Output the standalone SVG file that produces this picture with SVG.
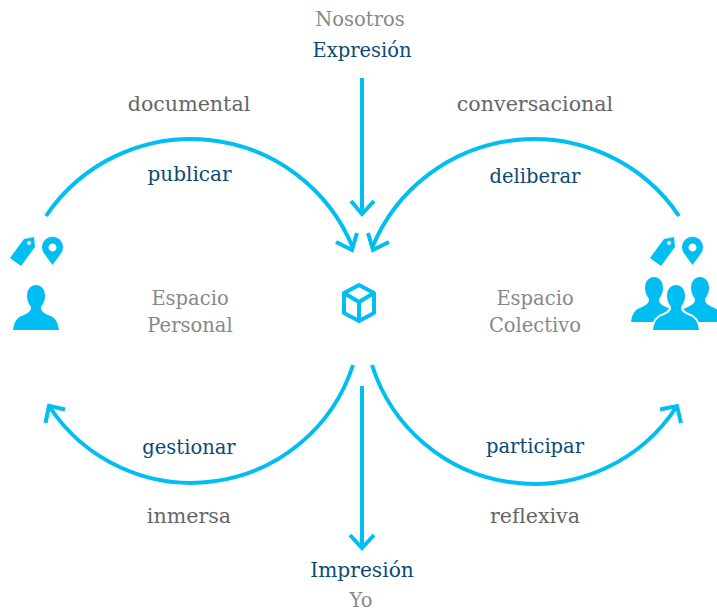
<svg xmlns="http://www.w3.org/2000/svg" xmlns:xlink="http://www.w3.org/1999/xlink" width="717" height="612" viewBox="0 0 717 612">
<style>
text{font-family:"DejaVu Serif",serif;font-size:19.5px;text-anchor:middle}
.d{fill:#0b4a78}.g{fill:#666;font-size:20.6px}.l{fill:#888}
.c{fill:none;stroke:#00bdf2;stroke-width:4}
.i{fill:#00bdf2}
</style>
<defs>
<g id="tagpin"><path class="i" d="M24 239L34 237L35 247L21 266L10 258Z"/><circle cx="29" cy="243" r="2" fill="#fff"/><path class="i" fill-rule="evenodd" d="M52.500 265L44.500 254A10.500 10.500 0 1 1 60.500 254ZM52.500 243.500a4 4 0 1 0 .01 0Z"/></g>
<path id="person" d="M36 285C41 285 45 289 45 296C45 301 43 304 41 307C40.500 311 44 313 48 315C55 317 58 322 59 330H13C14 322 17 317 24 315C28 313 31.500 311 31 307C29 304 27 301 27 296C27 289 31 285 36 285Z"/>
</defs>
<rect width="717" height="612" fill="#fff"/>
<g id="connectors" class="c">
<path d="M46 216A175 175 0 0 1 353 248"/><path d="M336 242L352 250L357 233"/>
<path d="M679 216A175 175 0 0 0 372 248"/><path d="M389 242L373 250L368 233"/>
<path d="M353 365A170 170 0 0 1 49 406"/><path d="M65 409.500L49 406L45.500 423"/>
<path d="M372 365A170 170 0 0 0 677 406"/><path d="M660 409.500L677 406L681 423"/>
<path d="M362 78V214"/><path d="M351 201L362 214L374 201"/>
<path d="M362 386V548"/><path d="M350 535L362 548L374 535"/>
</g>
<g id="top-label"><text class="l" x="360" y="26">Nosotros</text><text class="d" x="362" y="57">Expresión</text></g>
<g id="bottom-label"><text class="d" x="362" y="577" style="font-size:20.200px">Impresión</text><text class="l" x="361" y="607">Yo</text></g>
<g id="documental"><text class="g" x="189" y="111">documental</text><text class="d" x="189.500" y="181" style="font-size:20px">publicar</text></g>
<g id="conversacional"><text class="g" x="535" y="111">conversacional</text><text class="d" x="535" y="183">deliberar</text></g>
<g id="inmersa"><text class="g" x="189" y="523">inmersa</text><text class="d" x="189" y="454">gestionar</text></g>
<g id="reflexiva"><text class="g" x="535" y="523">reflexiva</text><text class="d" x="535" y="453">participar</text></g>
<g id="espacio-personal"><text class="l" x="190" y="305">Espacio</text><text class="l" x="190" y="332">Personal</text></g>
<g id="espacio-colectivo"><text class="l" x="535" y="305">Espacio</text><text class="l" x="535" y="332">Colectivo</text></g>
<g id="cube" fill="none" stroke="#00bdf2" stroke-width="4" stroke-linejoin="round"><path d="M359 285L374 293V313L359 321L344 313V293ZM344 293L359 302L374 293M359 302V321"/></g>
<g id="personal-icons"><use xlink:href="#tagpin"/><use xlink:href="#person" class="i"/></g>
<g id="collective-icons"><use xlink:href="#tagpin" x="640"/><use xlink:href="#person" class="i" x="618" y="-8"/><use xlink:href="#person" class="i" x="664" y="-8"/><use xlink:href="#person" class="i" x="640" stroke="#fff" stroke-width="4" paint-order="stroke"/></g>
</svg>
